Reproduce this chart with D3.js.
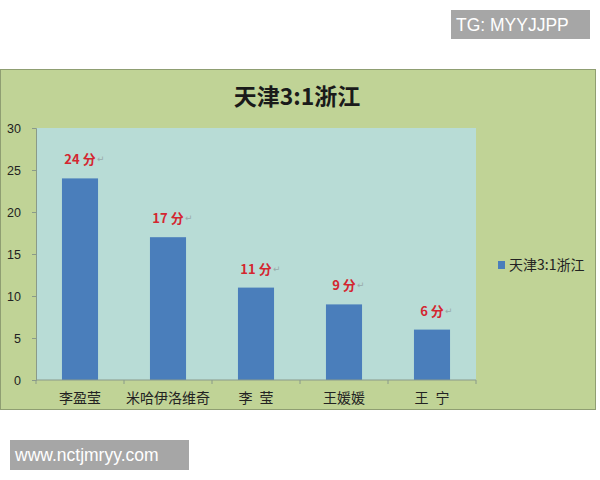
<!DOCTYPE html>
<html>
<head>
<meta charset="utf-8">
<script src="https://cdn.jsdelivr.net/npm/d3@7"></script>
<style>
  body { margin: 0; background: #fff; }
  svg { display: block; }
</style>
</head>
<body>
<svg id="chart" width="600" height="480"></svg>
<script>
// data
var players = ["李盈莹", "米哈伊洛维奇", "李\u2002莹", "王媛媛", "王\u2002宁"];
var points = [24, 17, 11, 9, 6];
var yTicks = [0, 5, 10, 15, 20, 25, 30];
var seriesName = "天津3:1浙江";
var chartTitle = "天津3:1浙江";

var cjk = "'Noto Sans CJK SC', 'Noto Sans', sans-serif";

function drawChart() {
    var svg = d3.select("#chart");

    // watermark badges
    svg.append("rect")
        .attr("x", 451).attr("y", 10)
        .attr("width", 139).attr("height", 29)
        .attr("fill", "#a6a6a6");
    svg.append("text")
        .attr("x", 456).attr("y", 31)
        .attr("fill", "#fff")
        .attr("font-family", "Liberation Sans, Arial, sans-serif")
        .attr("font-size", 17.5)
        .text("TG: MYYJJPP");

    svg.append("rect")
        .attr("x", 10).attr("y", 440)
        .attr("width", 179).attr("height", 30)
        .attr("fill", "#a6a6a6");
    svg.append("text")
        .attr("x", 15).attr("y", 461)
        .attr("fill", "#fff")
        .attr("font-family", "Liberation Sans, Arial, sans-serif")
        .attr("font-size", 17.5)
        .text("www.nctjmryy.com");

    // green chart panel
    svg.append("rect")
        .attr("x", 0.5).attr("y", 69.5)
        .attr("width", 595).attr("height", 340)
        .attr("fill", "#c0d396")
        .attr("stroke", "#8f9e72")
        .attr("stroke-width", 1);

    svg.append("text")
        .attr("x", 297).attr("y", 105)
        .attr("text-anchor", "middle")
        .attr("font-family", cjk)
        .attr("font-size", 23)
        .attr("font-weight", "bold")
        .attr("fill", "#1a1a1a")
        .text(chartTitle);

    var plot = { left: 36, right: 476, top: 128, bottom: 380 };

    var x = d3.scaleBand()
        .domain(players)
        .range([plot.left, plot.right])
        .paddingInner(0.59)
        .paddingOuter(0.295);

    var y = d3.scaleLinear()
        .domain([0, 30])
        .range([plot.bottom, plot.top]);

    // plot area
    svg.append("rect")
        .attr("x", plot.left).attr("y", plot.top)
        .attr("width", plot.right - plot.left)
        .attr("height", plot.bottom - plot.top)
        .attr("fill", "#b8dcd6");

    // y axis
    var yAxis = svg.append("g")
        .attr("transform", "translate(" + plot.left + ",0)")
        .call(d3.axisLeft(y).tickValues(yTicks).tickSize(4).tickPadding(11));
    yAxis.select(".domain").attr("stroke", "#8a9a8a");
    yAxis.selectAll(".tick line").attr("stroke", "#8a9a8a");
    yAxis.selectAll(".tick text")
        .attr("font-family", "Liberation Sans, Arial, sans-serif")
        .attr("font-size", 12.5)
        .attr("fill", "#222");

    // bars
    svg.append("g")
        .selectAll(".bar")
        .data(players)
        .enter()
        .append("rect")
        .classed("bar", true)
        .attr("x", d => x(d))
        .attr("y", (d, i) => y(points[i]))
        .attr("width", x.bandwidth())
        .attr("height", (d, i) => y(0) - y(points[i]))
        .attr("fill", "#4a7ebb");

    // x axis line with category boundary ticks
    var xAxis = svg.append("g").attr("transform", "translate(0," + plot.bottom + ")");
    xAxis.append("line")
        .attr("x1", plot.left).attr("x2", plot.right)
        .attr("stroke", "#8a9a8a");
    var bounds = d3.range(players.length + 1).map(i => plot.left + i * x.step());
    xAxis.selectAll(".bt")
        .data(bounds)
        .enter()
        .append("line")
        .attr("x1", d => d).attr("x2", d => d)
        .attr("y1", 0).attr("y2", 4)
        .attr("stroke", "#8a9a8a");
    xAxis.selectAll(".cat")
        .data(players)
        .enter()
        .append("text")
        .attr("x", d => x(d) + x.bandwidth() / 2)
        .attr("y", 23)
        .attr("text-anchor", "middle")
        .attr("font-family", cjk)
        .attr("font-size", 14)
        .attr("fill", "#222")
        .text(d => d);

    // value labels
    var lab = svg.append("g")
        .selectAll(".lab")
        .data(players)
        .enter()
        .append("g")
        .attr("transform", (d, i) => "translate(" + (x(d) + x.bandwidth() / 2) + "," + (y(points[i]) - 14) + ")");
    lab.append("text")
        .attr("text-anchor", "middle")
        .attr("font-family", cjk)
        .attr("font-size", 13)
        .attr("font-weight", "bold")
        .attr("fill", "#d42630")
        .text((d, i) => points[i] + " 分");
    lab.append("text")
        .attr("x", (d, i) => points[i] >= 10 ? 17 : 13)
        .attr("y", -2)
        .attr("font-family", "DejaVu Sans, sans-serif")
        .attr("font-size", 9)
        .attr("fill", "#9aa")
        .text("↵");

    // legend
    svg.append("rect")
        .attr("x", 498).attr("y", 261)
        .attr("width", 7).attr("height", 8)
        .attr("fill", "#4a7ebb");
    svg.append("text")
        .attr("x", 509).attr("y", 270)
        .attr("font-family", cjk)
        .attr("font-size", 14)
        .attr("fill", "#222")
        .text(seriesName);
}

drawChart();
</script>
</body>
</html>
